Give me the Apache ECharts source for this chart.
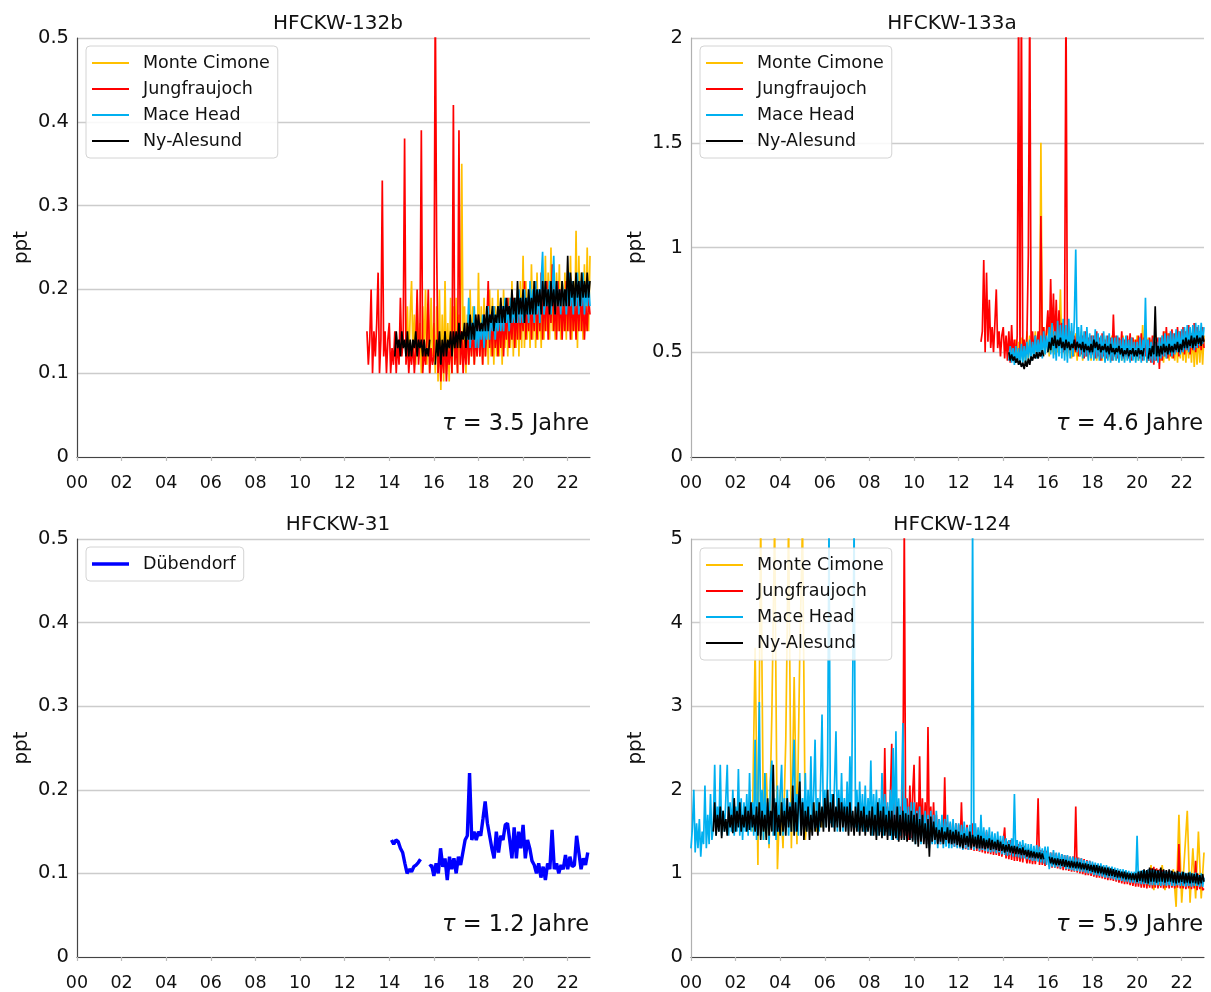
<!DOCTYPE html>
<html>
<head>
<meta charset="utf-8">
<script src="https://cdn.jsdelivr.net/npm/echarts@6/dist/echarts.min.js"></script>
<style>
html,body{margin:0;padding:0;background:#fff;}
#c{width:1211px;height:992px;}
</style>
</head>
<body>
<div id="c"></div>
<script>
// ---------- DATA (years since 2000, regular sampling: start + i*step) ----------
const titles = ['HFCKW-132b', 'HFCKW-133a', 'HFCKW-31', 'HFCKW-124'];
const lifetimes = ['3.5', '4.6', '1.2', '5.9'];
const stations = ['Monte Cimone', 'Jungfraujoch', 'Mace Head', 'Ny-Alesund'];
const xTicks = ['00','02','04','06','08','10','12','14','16','18','20','22'];
const fine = 0.0625;   // 16 samples per year
const coarse = 0.125;  // 8 samples per year

// HFCKW-132b (fine)
const p1_mc_start = 14.75;
const p1_mc = [0.13,0.18,0.11,0.17,
 0.21,0.12,0.17,0.11,0.19,0.12,0.16,0.10,0.18,0.12,0.20,0.11,0.17,0.10,0.19,0.12,
 0.16,0.10,0.18,0.09,0.20,0.08,0.17,0.09,0.21,0.10,0.16,0.09,0.19,0.10,0.18,0.11,
 0.19,0.10,0.17,0.11,0.35,0.12,0.18,0.10,0.17,0.11,0.20,0.12,0.18,0.11,0.17,0.12,
 0.22,0.12,0.18,0.11,0.19,0.12,0.17,0.11,0.20,0.12,0.19,0.11,0.18,0.12,0.20,0.12,
 0.19,0.11,0.20,0.13,0.18,0.12,0.19,0.13,0.21,0.12,0.19,0.13,0.20,0.12,0.21,0.13,
 0.24,0.13,0.21,0.14,0.20,0.13,0.23,0.14,0.21,0.13,0.22,0.14,0.20,0.13,0.22,0.14,
 0.24,0.15,0.22,0.14,0.25,0.15,0.21,0.14,0.22,0.15,0.23,0.14,0.21,0.15,0.22,0.14,
 0.22,0.15,0.24,0.14,0.21,0.15,0.27,0.13,0.24,0.15,0.22,0.14,0.23,0.15,0.25,0.15,0.24];
const p1_jf_start = 13.0;
const p1_jf = [0.15,0.11,0.14,0.20,0.10,0.15,0.12,0.16,0.22,0.10,0.14,0.33,0.12,0.15,0.10,0.14,
 0.16,0.10,0.13,0.11,0.15,0.10,0.14,0.11,0.19,0.12,0.14,0.38,0.11,0.14,0.10,0.13,
 0.11,0.14,0.10,0.13,0.20,0.11,0.14,0.39,0.10,0.13,0.11,0.14,0.20,0.10,0.13,0.11,
 0.12,0.55,0.25,0.10,0.14,0.09,0.13,0.10,0.15,0.09,0.13,0.11,0.14,0.10,0.42,0.11,
 0.14,0.10,0.39,0.11,0.15,0.10,0.14,0.11,0.16,0.11,0.15,0.12,0.16,0.11,0.15,0.12,
 0.17,0.12,0.16,0.11,0.17,0.12,0.16,0.21,0.13,0.17,0.12,0.18,0.13,0.16,0.12,0.17,
 0.13,0.18,0.12,0.17,0.14,0.19,0.13,0.17,0.14,0.19,0.13,0.18,0.14,0.20,0.14,0.18,
 0.15,0.21,0.14,0.19,0.15,0.20,0.14,0.19,0.15,0.21,0.14,0.20,0.15,0.22,0.14,0.20,
 0.15,0.21,0.14,0.20,0.16,0.23,0.15,0.19,0.14,0.21,0.15,0.20,0.14,0.19,0.15,0.21,
 0.15,0.21,0.14,0.20,0.15,0.19,0.14,0.20,0.15,0.21,0.15,0.19,0.14,0.18,0.15,0.19,0.17];
const p1_mh_start = 17.5;
const p1_mh = [0.14,0.19,0.13,0.16,0.14,0.18,0.13,0.16,
 0.13,0.16,0.14,0.17,0.13,0.16,0.14,0.18,0.14,0.17,0.15,0.18,0.14,0.17,0.15,0.18,
 0.15,0.18,0.15,0.19,0.16,0.18,0.15,0.19,0.16,0.18,0.16,0.19,0.16,0.20,0.16,0.19,
 0.16,0.20,0.17,0.19,0.16,0.21,0.17,0.20,0.16,0.21,0.17,0.20,0.16,0.21,0.245,0.17,
 0.17,0.20,0.18,0.21,0.17,0.20,0.24,0.17,0.21,0.18,0.20,0.17,0.21,0.18,0.20,0.17,
 0.17,0.22,0.18,0.21,0.17,0.20,0.18,0.22,0.17,0.21,0.18,0.22,0.17,0.20,0.18,0.21,0.18];
const p1_ny_start = 14.25;
const p1_ny = [0.12,0.15,0.13,0.14,0.12,0.15,0.13,0.14,0.12,0.15,0.12,0.14,
 0.12,0.14,0.13,0.15,0.12,0.14,0.13,0.14,0.12,0.14,0.12,0.13,0.12,0.14,null,null,
 null,0.11,0.14,0.12,0.15,0.11,0.14,0.12,0.15,0.12,0.14,0.13,0.15,0.12,0.15,0.13,
 0.15,0.13,0.16,0.13,0.15,0.14,0.16,0.13,0.16,0.14,0.17,0.14,0.16,0.14,0.17,0.15,
 0.17,0.15,0.16,0.15,0.17,0.15,0.18,0.15,0.17,0.16,0.18,0.15,0.17,0.16,0.18,0.16,
 0.19,0.16,0.18,0.16,0.19,0.17,0.18,0.16,0.20,0.17,0.19,0.16,0.21,0.17,0.19,0.17,
 0.20,0.16,0.19,0.17,0.20,0.17,0.19,0.17,0.21,0.17,0.20,0.18,0.20,0.17,0.21,0.18,
 0.21,0.18,0.20,0.17,0.21,0.18,0.20,0.17,0.21,0.18,0.20,0.18,0.21,0.18,0.20,0.18,
 0.24,0.18,0.22,0.19,0.21,0.18,0.22,0.19,0.21,0.18,0.22,0.19,0.21,0.19,0.22,0.19,0.21];

// HFCKW-133a (fine)
const p2_mc_start = 14.5;
const p2_mc = [0.47,0.56,0.46,0.55,0.45,0.57,0.46,0.55,
 0.45,0.60,0.47,0.58,0.48,0.56,0.49,0.60,0.48,0.58,0.50,1.50,0.50,0.62,0.49,0.60,
 0.62,0.48,0.65,0.50,0.60,0.49,0.63,0.50,0.58,0.80,0.52,0.62,0.49,0.60,0.48,0.58,
 0.60,0.47,0.58,0.48,0.59,0.46,0.58,0.48,0.60,0.46,0.57,0.48,0.59,0.47,0.56,0.46,
 0.58,0.47,0.56,0.46,0.57,0.47,0.56,0.46,0.58,0.46,0.57,0.47,0.56,0.46,0.58,0.47,
 0.56,0.46,0.57,0.47,0.56,0.46,0.58,0.46,0.57,0.47,0.56,0.46,0.57,0.47,0.56,0.46,
 0.58,0.46,0.57,0.47,0.63,0.47,0.56,0.45,0.57,0.46,0.56,0.47,0.58,0.46,0.57,0.47,
 0.56,0.46,0.58,0.45,0.60,0.47,0.59,0.46,0.57,0.47,0.56,0.46,0.58,0.45,0.60,0.47,
 0.59,0.46,0.58,0.45,0.60,0.47,0.59,0.45,0.60,0.43,0.58,0.44,0.60,0.45,0.59,0.44,0.58];
const p2_jf_start = 13.0;
const p2_jf = [0.55,0.60,0.94,0.50,0.88,0.55,0.75,0.52,0.62,0.50,0.64,0.80,0.52,0.60,0.48,0.58,
 0.62,0.47,0.58,0.46,0.60,0.45,0.63,0.47,0.56,0.46,0.58,2.2,0.48,2.2,0.50,0.56,
 0.49,0.58,0.97,2.2,0.50,0.60,0.49,0.58,0.50,0.60,0.49,1.15,0.52,0.62,0.50,0.60,
 0.70,0.52,0.85,0.55,0.78,0.53,0.75,0.52,0.70,0.55,0.64,0.50,0.62,2.2,0.50,0.60,
 0.52,0.60,0.48,0.58,0.50,0.60,0.48,0.57,0.49,0.58,0.47,0.60,0.48,0.57,0.49,0.58,
 0.49,0.58,0.47,0.60,0.48,0.57,0.46,0.59,0.48,0.56,0.47,0.58,0.48,0.57,0.46,0.68,
 0.48,0.58,0.47,0.57,0.49,0.60,0.47,0.56,0.48,0.58,0.47,0.59,0.46,0.57,0.48,0.56,
 0.48,0.58,0.47,0.59,0.46,0.57,0.48,0.56,0.46,0.57,0.45,0.58,0.44,0.55,0.46,0.57,
 0.42,0.57,0.46,0.60,0.48,0.62,0.47,0.59,0.48,0.61,0.47,0.59,0.50,0.62,0.48,0.60,
 0.50,0.62,0.49,0.60,0.51,0.63,0.49,0.59,0.51,0.64,0.50,0.62,0.52,0.60,0.51,0.62,0.52];
const p2_mh_start = 14.25;
const p2_mh = [0.46,0.53,0.45,0.52,0.44,0.53,0.45,0.52,0.44,0.54,0.45,0.53,
 0.45,0.55,0.47,0.56,0.46,0.55,0.48,0.58,0.47,0.56,0.48,0.58,0.47,0.60,0.49,0.58,
 0.50,0.62,0.49,0.64,0.47,0.60,0.46,0.65,0.48,0.63,0.47,0.66,0.46,0.63,0.45,0.66,
 0.47,0.64,0.48,0.66,0.99,0.50,0.62,0.48,0.63,0.47,0.60,0.48,0.62,0.46,0.59,0.47,
 0.58,0.46,0.61,0.47,0.59,0.46,0.58,0.47,0.60,0.45,0.58,0.46,0.59,0.45,0.57,0.46,
 0.57,0.46,0.58,0.45,0.56,0.46,0.57,0.45,0.58,0.46,0.56,0.45,0.57,0.46,0.55,0.45,
 0.55,0.46,0.57,0.45,0.56,0.46,0.76,0.45,0.56,0.46,0.55,0.45,0.57,0.46,0.55,0.45,
 0.57,0.47,0.58,0.48,0.59,0.47,0.58,0.49,0.60,0.48,0.59,0.49,0.61,0.50,0.60,0.49,
 0.61,0.50,0.62,0.51,0.63,0.50,0.62,0.52,0.63,0.51,0.64,0.52,0.63,0.53,0.64,0.54,0.62];
const p2_ny_start = 14.25;
const p2_ny = [0.50,0.46,0.49,0.46,0.48,0.45,0.47,0.44,0.46,0.43,0.45,0.42,
 0.46,0.43,0.47,0.44,0.48,0.46,0.49,0.47,0.50,0.47,0.50,0.48,0.51,0.48,null,null,
 0.50,0.55,0.51,0.57,0.53,0.58,0.52,0.56,0.53,0.57,0.52,0.55,0.51,0.56,0.52,0.55,
 0.51,0.54,0.52,0.56,0.51,0.55,0.52,0.54,0.51,0.55,0.50,0.54,0.51,0.53,0.50,0.54,
 0.50,0.56,0.52,0.55,0.51,0.54,0.50,0.53,0.51,0.54,0.50,0.53,0.49,0.54,0.50,0.52,
 0.49,0.52,0.50,0.53,0.49,0.52,0.48,0.51,0.49,0.52,0.48,0.51,0.49,0.52,0.48,0.51,
 0.48,0.52,0.49,0.51,0.48,0.52,null,null,0.47,0.52,0.48,0.53,0.49,0.72,0.48,0.53,
 0.48,0.53,0.49,0.54,0.50,0.53,0.49,0.54,0.50,0.53,0.50,0.54,0.51,0.55,0.50,0.54,
 0.51,0.56,0.52,0.57,0.52,0.56,0.53,0.58,0.52,0.57,0.53,0.58,0.54,0.57,0.53,0.58,0.55];

// HFCKW-31 (Dübendorf), step 0.1
const p3_start = 14.1;
const p3_step = 0.1;
const p3_dub = [0.140,0.135,0.140,0.138,0.130,0.125,0.112,0.100,0.105,0.102,0.108,0.110,0.113,0.117,null,null,null,0.108,0.110,0.097,0.112,0.100,0.130,0.108,0.118,0.092,0.120,0.105,0.118,0.100,0.120,0.110,0.125,0.140,0.145,0.220,0.140,0.150,0.140,0.150,0.145,0.165,0.186,0.160,0.145,0.130,0.118,0.150,0.125,0.145,0.140,0.158,0.160,0.140,0.118,0.155,0.118,0.150,0.130,0.158,0.118,0.140,0.130,0.115,0.110,0.100,0.112,0.095,0.108,0.092,0.112,0.105,0.152,0.105,0.112,0.100,0.110,0.105,0.122,0.105,0.120,0.108,0.110,0.145,0.125,0.105,0.118,0.110,0.125];

// HFCKW-124
const p4_mc_start = 2.75; // coarse
const p4_mc = [1.5,3.7,1.1,5.2,1.4,2.2,1.3,2.9,5.2,1.05,2.0,1.3,2.6,5.2,1.3,3.35,1.35,3.6,5.2,1.4,1.8,1.5,1.85,1.5,1.8,1.55,1.8,
 null,null,null,null,null,null,null,null,null,null,null,null,null,null,null,null,null,null,null,null,null,null,null,null,null,null,null,null,null,null,null,null,null,null,null,null,null,null,null,null,null,null,null,null,null,null,null,null,null,null,null,null,null,null,null,null,null,null,null,null,null,null,null,null,null,null,null,null,null,null,null,null,null,null,null,null,null,null,null,null,null,null,null,null,null,null,null,null,null,null,null,null,null,null,null,null,null,null,null,null,null,null,null,null,null,null,null,null,null,null,null,null,null,null,null,
 0.85,1.1,0.8,1.05,0.85,1.1,0.8,1.0,0.9,1.05,0.6,1.7,0.65,1.2,1.75,0.65,1.3,0.7,1.5,0.7,1.25];
const p4_jf_start = 8.5; // fine
const p4_jf = [1.50,1.85,1.48,2.50,1.50,1.80,1.45,1.90,
 2.55,1.45,1.90,1.42,1.85,1.40,1.80,1.42,1.90,5.20,1.45,1.90,1.40,2.05,1.42,1.95,
 2.30,1.40,1.85,1.38,2.40,1.40,1.90,1.38,1.85,1.35,2.75,1.38,1.80,1.36,1.85,1.35,
 1.70,1.36,1.65,1.35,1.60,1.38,2.15,1.35,1.62,1.33,1.60,1.34,1.58,1.32,1.60,1.32,
 1.58,1.30,1.85,1.30,1.55,1.29,1.58,1.28,1.55,1.28,1.60,1.27,1.55,1.27,1.52,1.26,
 1.50,1.25,1.48,1.24,1.50,1.24,1.46,1.23,1.45,1.22,1.44,1.22,1.42,1.21,1.40,1.20,
 1.38,1.55,1.18,1.38,1.17,1.40,1.16,1.37,1.15,1.36,1.15,1.35,1.14,1.34,1.13,1.33,
 1.32,1.12,1.30,1.12,1.30,1.11,1.29,1.11,1.30,1.90,1.10,1.28,1.10,1.27,1.09,1.27,
 1.26,1.08,1.25,1.07,1.25,1.07,1.24,1.06,1.23,1.05,1.23,1.04,1.22,1.04,1.21,1.03,
 1.20,1.02,1.20,1.02,1.80,1.01,1.19,1.00,1.18,0.99,1.17,0.98,1.16,0.98,1.15,0.97,
 1.12,0.96,1.11,0.95,1.10,0.95,1.09,0.94,1.08,0.93,1.08,0.92,1.07,0.92,1.06,0.91,
 1.05,0.90,1.04,0.89,1.03,0.88,1.03,0.87,1.02,0.87,1.01,0.86,1.00,0.85,1.00,0.84,
 1.00,0.84,1.01,0.83,1.00,0.83,1.02,0.82,1.05,0.83,1.06,0.82,1.08,0.83,1.06,0.82,
 1.05,0.83,1.04,0.82,1.03,0.83,1.02,0.82,1.03,0.83,1.01,0.82,1.00,0.83,1.35,0.82,
 1.00,0.82,0.99,0.81,0.98,0.82,1.00,0.81,0.98,0.82,1.15,0.80,0.99,0.81,0.98,0.80,0.82];
const p4_mh_start = 0.0; // fine
const p4_mh = [1.30,1.55,2.00,1.25,1.60,1.30,1.65,1.20,1.50,1.35,2.05,1.30,1.70,1.35,1.95,1.40,
 1.55,2.30,1.45,1.80,1.50,2.30,1.45,1.75,1.50,1.90,2.30,1.45,1.85,1.50,2.00,1.45,
 1.80,1.50,2.25,1.45,1.90,1.40,1.85,1.50,1.95,1.45,2.20,1.50,1.85,1.45,2.60,1.40,
 1.90,3.05,1.45,2.00,1.40,2.20,1.50,1.85,1.35,2.10,2.35,1.45,1.90,1.40,2.05,1.50,
 1.95,2.30,1.45,1.90,1.50,2.00,1.45,1.85,1.50,2.10,2.60,1.50,1.95,1.45,2.20,1.50,
 1.90,1.55,2.20,1.50,2.00,1.55,2.40,1.50,1.95,2.60,1.55,1.90,1.50,2.10,2.90,1.55,
 2.00,1.55,2.30,5.20,1.60,1.95,1.55,2.10,2.70,1.50,2.00,1.55,2.20,1.50,1.90,1.55,
 2.10,1.50,2.40,1.55,3.30,5.20,1.55,2.00,1.50,2.10,1.55,1.95,1.50,2.05,1.50,1.90,
 1.55,2.35,1.45,1.95,1.50,2.00,1.45,1.90,1.50,2.20,1.45,1.95,1.50,1.85,1.45,2.00,
 1.40,2.50,1.45,2.70,1.40,1.90,1.45,1.85,2.80,1.40,1.90,1.45,1.80,1.40,1.85,1.40,
 1.85,1.35,1.75,1.40,1.80,1.35,1.70,1.40,1.75,1.35,1.70,1.30,1.75,1.35,1.70,1.35,
 1.75,1.30,1.65,1.35,1.70,1.30,1.65,1.32,1.70,1.30,1.62,1.30,1.65,1.32,1.60,1.30,
 1.60,1.30,1.58,1.28,1.62,1.30,1.55,1.28,1.58,1.30,5.20,1.28,1.60,1.30,1.55,1.27,
 1.70,1.28,1.55,1.27,1.52,1.26,1.55,1.25,1.50,1.26,1.48,1.24,1.50,1.25,1.45,1.23,
 1.45,1.22,1.42,1.21,1.40,1.22,1.42,1.20,1.95,1.20,1.40,1.19,1.38,1.18,1.40,1.18,
 1.36,1.17,1.35,1.16,1.35,1.15,1.33,1.15,1.34,1.14,1.32,1.13,1.30,1.12,1.32,1.10,
 1.32,1.05,1.25,1.08,1.28,1.07,1.25,1.08,1.25,1.06,1.23,1.08,1.22,1.05,1.22,1.05,
 1.20,1.04,1.20,1.03,1.19,1.03,1.18,1.02,1.18,1.02,1.16,1.01,1.15,1.00,1.15,1.00,
 1.14,0.98,1.13,0.98,1.12,0.97,1.12,0.96,1.10,0.95,1.10,0.95,1.08,0.94,1.08,0.93,
 1.07,0.92,1.06,0.92,1.05,0.91,1.05,0.90,1.04,0.90,1.03,0.89,1.02,0.89,1.02,0.88,
 1.45,0.88,1.03,0.87,1.04,0.87,1.03,0.87,1.05,0.86,1.04,0.86,1.04,0.86,1.03,0.86,
 1.03,0.85,1.02,0.86,1.03,0.85,1.02,0.86,1.03,0.85,1.01,0.85,1.00,0.86,1.02,0.85,
 1.02,0.85,1.01,0.84,1.00,0.85,1.02,0.84,1.00,0.85,1.01,0.85,0.98,0.84,1.00,0.84,0.95];
const p4_ny_start = 1.0; // fine
const p4_ny = [1.50,1.85,1.45,1.70,1.50,1.80,1.42,1.75,1.50,1.65,1.45,1.80,1.55,1.70,1.48,1.90,
 1.50,1.75,1.55,1.85,1.50,1.70,1.55,1.80,1.50,1.75,1.52,1.85,1.55,1.70,1.50,1.80,
 1.45,1.85,1.40,1.75,1.50,1.70,1.40,1.90,1.45,1.75,1.50,2.30,1.45,1.85,1.50,1.70,
 1.45,1.85,1.50,1.75,1.45,1.90,1.55,1.80,1.50,2.05,1.45,1.85,1.50,1.80,2.10,1.45,
 1.85,1.40,1.75,1.50,1.80,1.40,1.70,1.45,1.85,1.50,1.75,1.45,1.85,1.55,1.80,1.50,
 1.90,1.55,2.00,1.50,1.85,1.55,1.95,1.50,1.80,1.55,1.90,1.50,1.85,1.55,1.80,1.50,
 1.80,1.45,1.85,1.50,1.75,1.45,1.80,1.50,1.85,1.45,1.75,1.50,1.80,1.45,1.70,1.50,
 1.75,1.45,1.80,1.45,1.70,1.40,1.85,1.45,1.75,1.42,1.80,1.45,1.70,1.40,1.75,1.45,
 1.75,1.40,1.70,1.42,1.80,1.38,1.70,1.40,1.75,1.40,1.72,1.38,1.70,1.40,1.75,1.38,
 1.70,1.35,1.72,1.32,1.65,1.38,1.70,1.35,1.60,1.30,1.65,1.20,1.68,1.38,1.62,1.40,
 1.55,1.35,1.52,1.38,1.55,1.35,1.50,1.40,1.55,1.36,1.52,1.35,1.50,1.36,1.52,1.34,
 1.50,1.32,1.46,1.30,1.48,1.34,1.45,1.32,1.50,1.30,1.46,1.32,1.44,1.30,1.46,1.30,
 1.45,1.30,1.42,1.29,1.40,1.30,1.42,1.28,1.40,1.29,1.38,1.28,1.40,1.27,1.38,1.27,
 1.35,1.25,1.34,1.26,1.35,1.25,1.33,1.24,1.33,1.23,1.32,1.23,1.30,1.22,1.31,1.22,
 1.28,1.20,1.28,1.19,1.27,1.19,1.26,1.18,1.25,1.18,1.25,1.17,1.24,1.17,null,null,
 null,1.20,1.12,1.19,1.11,1.18,1.10,1.18,1.10,1.17,1.09,1.17,1.08,1.16,1.08,1.15,
 1.07,1.15,1.07,1.14,1.06,1.14,1.06,1.13,1.05,1.12,1.05,1.12,1.04,1.11,1.03,1.10,
 1.02,1.10,1.01,1.10,1.00,1.09,1.00,1.08,0.99,1.07,0.98,1.07,0.97,1.06,0.97,1.05,
 0.96,1.04,0.95,1.03,0.95,1.02,0.94,1.02,0.93,1.01,0.93,1.00,0.92,1.00,0.92,1.00,
 0.90,1.02,0.91,1.03,0.90,1.05,0.89,1.04,0.88,1.07,0.90,1.06,0.90,1.05,0.89,1.04,
 0.90,1.07,0.90,1.05,0.89,1.04,0.90,1.05,0.90,1.03,0.89,1.02,0.88,1.03,0.89,1.00,
 0.90,1.02,0.88,1.00,0.89,1.01,0.88,1.00,0.89,0.99,0.88,1.00,0.87,0.98,0.88,0.99,0.90];

// ---------- CHART ----------
const colors = {'Monte Cimone':'#FFC000','Jungfraujoch':'#FF0000','Mace Head':'#00B0F0','Ny-Alesund':'#000000','Dübendorf':'#0000FF'};
const FONT = 'DejaVu Sans';
function pairs(start, st, vals){ return vals.map((v,i)=>[start + i*st, v]); }

const gridPos = [
  {left:77, top:38},
  {left:691, top:38},
  {left:77, top:539},
  {left:691, top:539}
];
const yCfg = [
  {max:0.5, interval:0.1},
  {max:2, interval:0.5},
  {max:0.5, interval:0.1},
  {max:5, interval:1}
];

const grids = gridPos.map(g=>({left:g.left, top:g.top, width:513, height:419, containLabel:false}));
const xAxes = gridPos.map((g,i)=>({
  type:'value', gridIndex:i, min:0, max:23, interval:2,
  axisLine:{show:true, onZero:false, lineStyle:{color:'#444', width:1.2}},
  axisTick:{show:true, length:4, lineStyle:{color:'#bbb', width:1.2}},
  splitLine:{show:false},
  axisLabel:{color:'#111', fontFamily:FONT, fontSize:17.5, margin:17, showMaxLabel:false,
    formatter:v=> (v%2===0 && xTicks[v/2] !== undefined) ? xTicks[v/2] : ''}
}));
const yAxes = gridPos.map((g,i)=>({
  type:'value', gridIndex:i, min:0, max:yCfg[i].max, interval:yCfg[i].interval,
  name:'ppt',
  nameLocation:'middle', nameGap:45,
  nameTextStyle:{color:'#111', fontFamily:FONT, fontSize:20},
  axisLine:{show:true, lineStyle:{color: (i%2===1)?'#b0b0b0':'#444', width:1.2}},
  axisTick:{show:false},
  splitLine:{show:true, lineStyle:{color:'#cccccc', width:1.3}},
  axisLabel:{color:'#111', fontFamily:FONT, fontSize:19.5, margin:8}
}));

function lineSeries(name, xi, start, st, vals, w){
  return {
    name:name, type:'line', xAxisIndex:xi, yAxisIndex:xi,
    data:pairs(start, st, vals), showSymbol:false, symbol:'none',
    connectNulls:false, clip:true, animation:false,
    lineStyle:{color:colors[name], width:w||1.7},
    itemStyle:{color:colors[name]}
  };
}

const series = [
  lineSeries('Monte Cimone',0,p1_mc_start,fine,p1_mc),
  lineSeries('Jungfraujoch',0,p1_jf_start,fine,p1_jf),
  lineSeries('Mace Head',0,p1_mh_start,fine,p1_mh),
  lineSeries('Ny-Alesund',0,p1_ny_start,fine,p1_ny),
  lineSeries('Monte Cimone',1,p2_mc_start,fine,p2_mc),
  lineSeries('Jungfraujoch',1,p2_jf_start,fine,p2_jf),
  lineSeries('Mace Head',1,p2_mh_start,fine,p2_mh),
  lineSeries('Ny-Alesund',1,p2_ny_start,fine,p2_ny),
  lineSeries('Dübendorf',2,p3_start,p3_step,p3_dub,3.4),
  lineSeries('Monte Cimone',3,p4_mc_start,coarse,p4_mc),
  lineSeries('Jungfraujoch',3,p4_jf_start,fine,p4_jf),
  lineSeries('Mace Head',3,p4_mh_start,fine,p4_mh),
  lineSeries('Ny-Alesund',3,p4_ny_start,fine,p4_ny)
];

function legend(left, top, names, thick){
  return {
    left:left, top:top, orient:'vertical', itemWidth:37, itemHeight:thick?3.5:2, itemGap:6,
    padding:[7,8,7,6], backgroundColor:'rgba(255,255,255,0.85)', borderColor:'#d4d4d4',
    borderWidth:1, borderRadius:4, selectedMode:false,
    textStyle:{color:'#111', fontFamily:FONT, fontSize:17.5, padding:[0,0,0,9], lineHeight:20},
    data:names.map(n=>({name:n, icon:'rect', itemStyle:{color:colors[n]}}))
  };
}

const titleObjs = titles.map((t,i)=>({
  text:t, left: gridPos[i].left + 256, top: gridPos[i].top - 29, textAlign:'center',
  textStyle:{color:'#111', fontFamily:FONT, fontSize:20, fontWeight:'normal'}
}));

const graphics = gridPos.map((g,i)=>({
  type:'text', x: g.left + 512, y: g.top + 386,
  style:{
    text:'{t|τ} = ' + lifetimes[i] + ' Jahre', align:'right', verticalAlign:'middle',
    fill:'#111', font:'22.5px "DejaVu Sans"',
    rich:{t:{fontStyle:'italic', fontFamily:FONT, fontSize:22.5, fill:'#111'}}
  }
}));

const chart = echarts.init(document.getElementById('c'), null, {renderer:'canvas'});
chart.setOption({
  backgroundColor:'#ffffff',
  animation:false,
  title:titleObjs,
  grid:grids, xAxis:xAxes, yAxis:yAxes,
  legend:[
    legend(86,46,stations),
    legend(700,46,stations),
    legend(86,547,['Dübendorf'], true),
    legend(700,548,stations)
  ],
  graphic:graphics,
  series:series
});
</script>
</body>
</html>
